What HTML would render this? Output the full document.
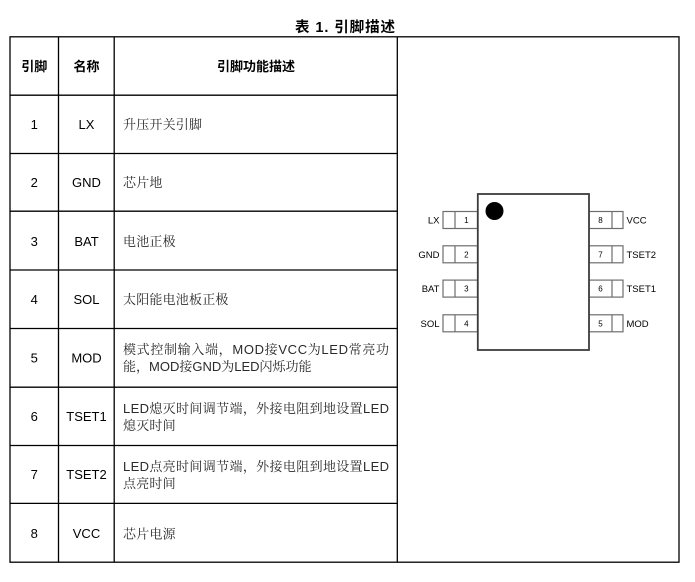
<!DOCTYPE html>
<html>
<head>
<meta charset="utf-8">
<style>
  html,body{margin:0;padding:0;background:#fff;}
  body{width:695px;height:582px;overflow:hidden;}
  svg{display:block;}
  .lat{font-family:"Liberation Sans","Noto Sans CJK SC",sans-serif;}
  .cjk{font-family:"Liberation Sans","Noto Serif CJK SC",serif;}
  .hd{font-family:"Liberation Sans","Noto Sans CJK SC",sans-serif;font-weight:bold;}
</style>
</head>
<body>
<svg width="695" height="582" viewBox="0 0 695 582" xmlns="http://www.w3.org/2000/svg">
  <!-- Title -->
  <text x="345" y="32" class="hd" font-size="14.5" text-anchor="middle" textLength="100" lengthAdjust="spacing" fill="#000">表 1. 引脚描述</text>

  <!-- Table lines -->
  <g stroke="#000" stroke-width="1.3" fill="none">
    <rect x="10" y="36.8" width="669" height="525.4"/>
    <line x1="58.5" y1="36.8" x2="58.5" y2="562.2"/>
    <line x1="114.2" y1="36.8" x2="114.2" y2="562.2"/>
    <line x1="397.3" y1="36.8" x2="397.3" y2="562.2"/>
    <line x1="10" y1="95.2" x2="397.3" y2="95.2"/>
    <line x1="10" y1="153.5" x2="397.3" y2="153.5"/>
    <line x1="10" y1="211.2" x2="397.3" y2="211.2"/>
    <line x1="10" y1="270" x2="397.3" y2="270"/>
    <line x1="10" y1="328.5" x2="397.3" y2="328.5"/>
    <line x1="10" y1="387.2" x2="397.3" y2="387.2"/>
    <line x1="10" y1="445.5" x2="397.3" y2="445.5"/>
    <line x1="10" y1="503.4" x2="397.3" y2="503.4"/>
  </g>

  <!-- Header -->
  <g class="hd" font-size="13" fill="#000" text-anchor="middle">
    <text x="34.3" y="71">引脚</text>
    <text x="86.5" y="71">名称</text>
    <text x="256" y="71">引脚功能描述</text>
  </g>

  <!-- Pin numbers -->
  <g class="lat" font-size="13" fill="#000" text-anchor="middle">
    <text x="34.3" y="129">1</text>
    <text x="34.3" y="187">2</text>
    <text x="34.3" y="246">3</text>
    <text x="34.3" y="304">4</text>
    <text x="34.3" y="362.5">5</text>
    <text x="34.3" y="421">6</text>
    <text x="34.3" y="479">7</text>
    <text x="34.3" y="538">8</text>
  </g>

  <!-- Names -->
  <g class="lat" font-size="13" fill="#000" text-anchor="middle">
    <text x="86.5" y="129">LX</text>
    <text x="86.5" y="187">GND</text>
    <text x="86.5" y="246">BAT</text>
    <text x="86.5" y="304">SOL</text>
    <text x="86.5" y="362.5">MOD</text>
    <text x="86.5" y="421">TSET1</text>
    <text x="86.5" y="479">TSET2</text>
    <text x="86.5" y="538">VCC</text>
  </g>

  <!-- Descriptions -->
  <g class="cjk" font-size="13" fill="#2a2a2a">
    <text x="123" y="129" letter-spacing="0.2">升压开关引脚</text>
    <text x="123" y="187" letter-spacing="0.2">芯片地</text>
    <text x="123" y="246" letter-spacing="0.2">电池正极</text>
    <text x="123" y="304" letter-spacing="0.2">太阳能电池板正极</text>
    <text x="123" y="354" textLength="266" lengthAdjust="spacing">模式控制输入端，MOD接VCC为LED常亮功</text>
    <text x="123" y="371">能，MOD接GND为LED闪烁功能</text>
    <text x="123" y="413" textLength="266" lengthAdjust="spacing">LED熄灭时间调节端，外接电阻到地设置LED</text>
    <text x="123" y="430" letter-spacing="0.2">熄灭时间</text>
    <text x="123" y="471" textLength="266" lengthAdjust="spacing">LED点亮时间调节端，外接电阻到地设置LED</text>
    <text x="123" y="488" letter-spacing="0.2">点亮时间</text>
    <text x="123" y="538.5" letter-spacing="0.2">芯片电源</text>
  </g>

  <!-- Chip diagram -->
  <g fill="#fff" stroke="#6e6e6e" stroke-width="1.2">
    <!-- left pins -->
    <rect x="443" y="211.5" width="34.5" height="17"/>
    <line x1="455" y1="211.5" x2="455" y2="228.5"/>
    <rect x="443" y="245.8" width="34.5" height="17"/>
    <line x1="455" y1="245.8" x2="455" y2="262.8"/>
    <rect x="443" y="280.1" width="34.5" height="17"/>
    <line x1="455" y1="280.1" x2="455" y2="297.1"/>
    <rect x="443" y="314.8" width="34.5" height="17"/>
    <line x1="455" y1="314.8" x2="455" y2="331.8"/>
    <!-- right pins -->
    <rect x="589" y="211.5" width="34" height="17"/>
    <line x1="612" y1="211.5" x2="612" y2="228.5"/>
    <rect x="589" y="245.8" width="34" height="17"/>
    <line x1="612" y1="245.8" x2="612" y2="262.8"/>
    <rect x="589" y="280.1" width="34" height="17"/>
    <line x1="612" y1="280.1" x2="612" y2="297.1"/>
    <rect x="589" y="314.8" width="34" height="17"/>
    <line x1="612" y1="314.8" x2="612" y2="331.8"/>
  </g>
  <rect x="477.8" y="194" width="111.2" height="156" fill="#fff" stroke="#3c3c3c" stroke-width="1.8"/>
  <circle cx="494.5" cy="211" r="9" fill="#000"/>

  <!-- pin numbers in boxes -->
  <g class="lat" font-size="8" fill="#000" text-anchor="middle">
    <text x="466.3" y="223">1</text>
    <text x="466.3" y="257.3">2</text>
    <text x="466.3" y="291.6">3</text>
    <text x="466.3" y="326.3">4</text>
    <text x="600.5" y="223">8</text>
    <text x="600.5" y="257.3">7</text>
    <text x="600.5" y="291.6">6</text>
    <text x="600.5" y="326.3">5</text>
  </g>

  <!-- pin labels -->
  <g class="lat" font-size="9.5" fill="#000">
    <g text-anchor="end">
      <text x="439.5" y="223.5">LX</text>
      <text x="439.5" y="257.8">GND</text>
      <text x="439.5" y="292.1">BAT</text>
      <text x="439.5" y="326.8">SOL</text>
    </g>
    <text x="626.5" y="223.5">VCC</text>
    <text x="626.5" y="257.8">TSET2</text>
    <text x="626.5" y="292.1">TSET1</text>
    <text x="626.5" y="326.8">MOD</text>
  </g>
</svg>
</body>
</html>
